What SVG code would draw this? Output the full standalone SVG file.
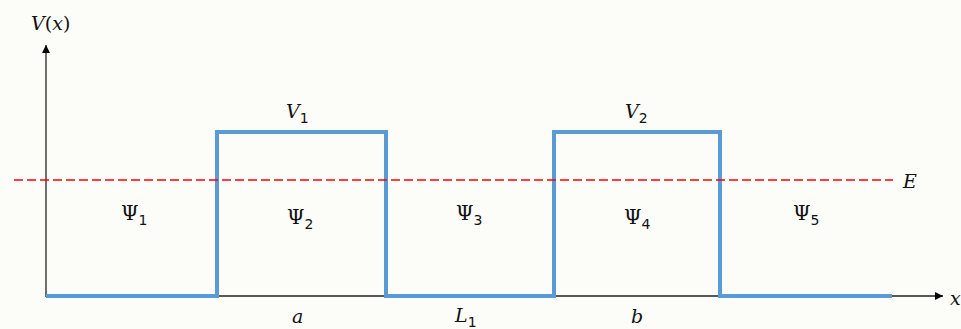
<svg xmlns="http://www.w3.org/2000/svg" width="961" height="329" viewBox="0 0 961 329">
<defs>
<marker id="arr" viewBox="0 0 10 10" refX="10" refY="5" markerWidth="8" markerHeight="8" markerUnits="userSpaceOnUse" orient="auto">
<path d="M0,0 L10,5 L0,10 z" fill="#000"/>
</marker>
<style>
.ax{stroke:#222;stroke-width:1.3;fill:none}
.pot{stroke:#5b9bd5;stroke-width:4;fill:none;stroke-linejoin:miter}
.en{stroke:#ff0000;stroke-width:1.6;stroke-dasharray:9 4;fill:none}
.m{font-family:"DejaVu Serif","Liberation Serif",serif;font-style:italic;font-size:19px;fill:#111}
.u{font-style:normal}
.g{font-family:"DejaVu Serif","Liberation Serif",serif;font-size:20px;fill:#111}
.s{font-family:"DejaVu Sans","Liberation Sans",sans-serif;font-size:14px;font-style:normal;fill:#111}
</style>
</defs>
<rect width="961" height="329" fill="#fcfcf8"/>
<g id="connectors">
<line class="ax" x1="46" y1="297" x2="46" y2="45" marker-end="url(#arr)"/>
<line class="ax" x1="46" y1="296" x2="943" y2="296" marker-end="url(#arr)"/>
<polyline class="pot" points="46,296 217,296 217,132 386,132 386,296 554,296 554,132 720,132 720,296 892,296"/>
<line class="en" x1="14" y1="180" x2="893" y2="180"/>
</g>
<g id="labels">
<text class="m" x="31" y="30">V<tspan class="u">(</tspan>x<tspan class="u">)</tspan></text>
<text class="m" x="286" y="118">V<tspan class="s" dy="5">1</tspan></text>
<text class="m" x="625" y="118">V<tspan class="s" dy="5">2</tspan></text>
<text class="m" x="903" y="188">E</text>
<text class="m" x="950" y="305">x</text>
<text class="g" x="121" y="220">Ψ<tspan class="s" dy="5">1</tspan></text>
<text class="g" x="287" y="224">Ψ<tspan class="s" dy="5">2</tspan></text>
<text class="g" x="456" y="220">Ψ<tspan class="s" dy="5">3</tspan></text>
<text class="g" x="624" y="224">Ψ<tspan class="s" dy="5">4</tspan></text>
<text class="g" x="793" y="220">Ψ<tspan class="s" dy="5">5</tspan></text>
<text class="m" x="292" y="323">a</text>
<text class="m" x="455" y="322">L<tspan class="s" dy="5">1</tspan></text>
<text class="m" x="631" y="323">b</text>
</g>
</svg>
